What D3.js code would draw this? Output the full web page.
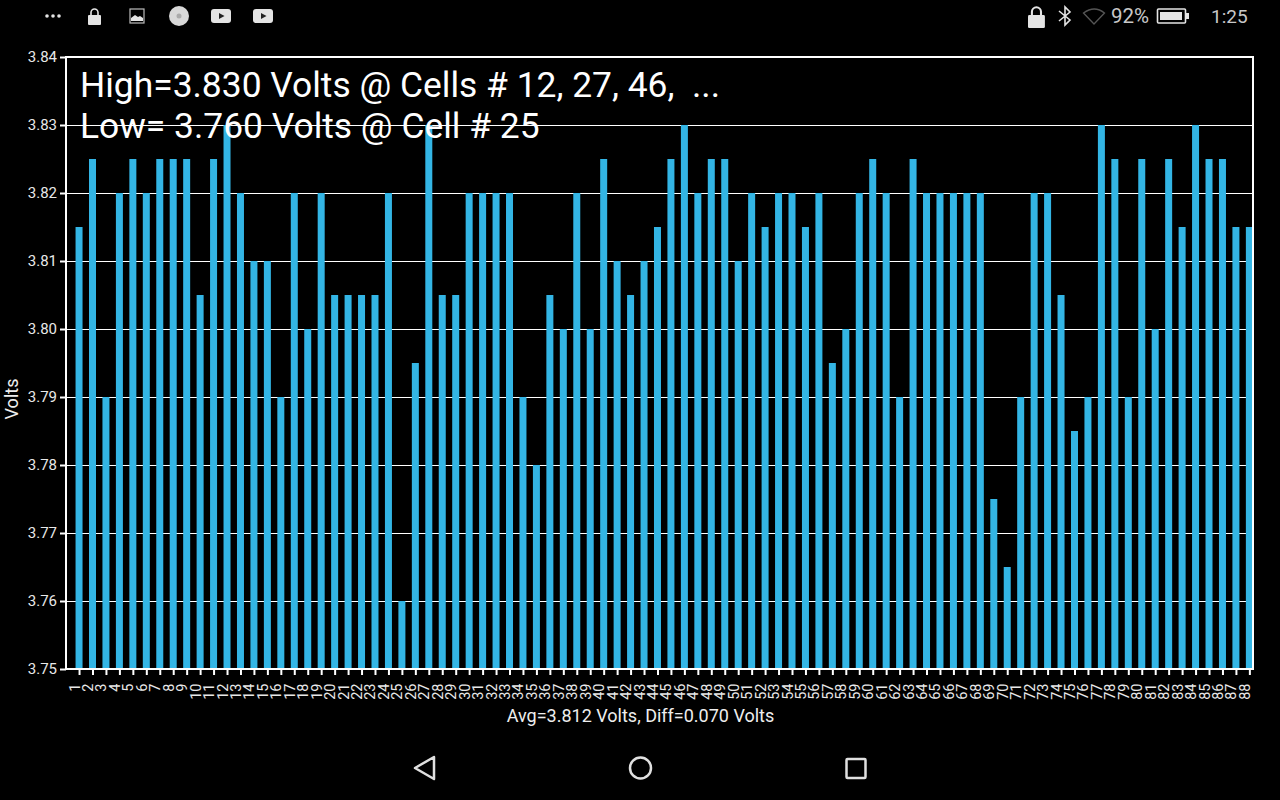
<!DOCTYPE html>
<html>
<head>
<meta charset="utf-8">
<script src="https://cdnjs.cloudflare.com/ajax/libs/d3/7.8.5/d3.min.js"></script>
<style>
html, body { margin: 0; padding: 0; background: #000; }
svg { display: block; font-family: Roboto, sans-serif; }
</style>
</head>
<body>
<script>
// cell voltages
var cells = d3.range(1, 89);
var volts = [
  3.815, 3.825, 3.79, 3.82, 3.825, 3.82, 3.825, 3.825, 3.825, 3.805,
  3.825, 3.83, 3.82, 3.81, 3.81, 3.79, 3.82, 3.80, 3.82, 3.805,
  3.805, 3.805, 3.805, 3.82, 3.76, 3.795, 3.83, 3.805, 3.805, 3.82,
  3.82, 3.82, 3.82, 3.79, 3.78, 3.805, 3.80, 3.82, 3.80, 3.825,
  3.81, 3.805, 3.81, 3.815, 3.825, 3.83, 3.82, 3.825, 3.825, 3.81,
  3.82, 3.815, 3.82, 3.82, 3.815, 3.82, 3.795, 3.80, 3.82, 3.825,
  3.82, 3.79, 3.825, 3.82, 3.82, 3.82, 3.82, 3.82, 3.775, 3.765,
  3.79, 3.82, 3.82, 3.805, 3.785, 3.79, 3.83, 3.825, 3.79, 3.825,
  3.80, 3.825, 3.815, 3.83, 3.825, 3.825, 3.815, 3.815
];
var yTicks = [3.75, 3.76, 3.77, 3.78, 3.79, 3.80, 3.81, 3.82, 3.83, 3.84];
var headerLines = ["High=3.830 Volts @ Cells # 12, 27, 46,  ...", "Low= 3.760 Volts @ Cell # 25"];
var xTitle = "Avg=3.812 Volts, Diff=0.070 Volts";
var yTitle = "Volts";

var svgWidth = 1280;
var svgHeight = 800;
var margin = { top: 57, right: 27, bottom: 131, left: 66 };
var width = svgWidth - margin.left - margin.right;
var height = svgHeight - margin.top - margin.bottom;
var barWidth = 7;

var svg = d3.select("body").append("svg")
  .attr("width", svgWidth)
  .attr("height", svgHeight);

// status bar and nav bar, drawn as plain icons
var statusBar = svg.append("g").attr("fill", "#e4e4e4");
[47, 53, 59].forEach(function (x) {
  statusBar.append("circle").attr("cx", x).attr("cy", 16).attr("r", 1.8);
});
function lock(x, y, k) {
  var g = statusBar.append("g").attr("transform", `translate(${x}, ${y}) scale(${k})`);
  g.append("rect").attr("x", 0).attr("y", 7).attr("width", 13).attr("height", 10).attr("rx", 1);
  g.append("path").attr("d", "M3 8 V4.5 a3.5 3.5 0 0 1 7 0 V8").attr("fill", "none").attr("stroke", "#e4e4e4").attr("stroke-width", 1.6);
}
lock(88, 8, 1);
statusBar.append("rect").attr("x", 130).attr("y", 9).attr("width", 14).attr("height", 14)
  .attr("fill", "none").attr("stroke", "#bbb").attr("stroke-width", 1.2);
statusBar.append("path").attr("d", "M131 21 v-3 l4 -3 l3 2 l2 -1 l3 2 v3 z");
statusBar.append("circle").attr("cx", 179).attr("cy", 16).attr("r", 10).attr("fill", "#d8d8d8");
statusBar.append("circle").attr("cx", 179).attr("cy", 16).attr("r", 2.5).attr("fill", "#aaa");
[211, 253].forEach(function (x) {
  statusBar.append("rect").attr("x", x).attr("y", 9).attr("width", 20).attr("height", 14).attr("rx", 3);
  statusBar.append("path").attr("d", `M${x + 8} 13 l5.5 3 l-5.5 3 z`).attr("fill", "#222");
});

lock(1028, 6, 1.3);
statusBar.append("path")
  .attr("d", "M1059 11 l11 9 l-5 5 v-18 l5 5 l-11 9")
  .attr("fill", "none").attr("stroke", "#e4e4e4").attr("stroke-width", 1.6);
statusBar.append("path")
  .attr("d", "M1083.5 13 q11 -8 21 0 l-10.5 11 z")
  .attr("fill", "none").attr("stroke", "#555").attr("stroke-width", 1.3);
statusBar.append("text").attr("x", 1111).attr("y", 22.5).attr("font-size", 20.5).attr("fill", "#c8c8c8").text("92%");
statusBar.append("rect").attr("x", 1157.5).attr("y", 9).attr("width", 28).attr("height", 14).attr("rx", 1)
  .attr("fill", "none").attr("stroke", "#e4e4e4").attr("stroke-width", 1.6);
statusBar.append("rect").attr("x", 1160).attr("y", 12).attr("width", 22).attr("height", 8);
statusBar.append("rect").attr("x", 1186).attr("y", 13).attr("width", 3).attr("height", 6);
statusBar.append("text").attr("x", 1211).attr("y", 22.5).attr("font-size", 19).attr("fill", "#c8c8c8").text("1:25");

var navBar = svg.append("g").attr("fill", "none").attr("stroke", "#e0e0e0").attr("stroke-width", 2.5);
navBar.append("path").attr("d", "M434 757 L415 768 L434 779 Z").attr("stroke-linejoin", "round");
navBar.append("circle").attr("cx", 640.5).attr("cy", 768).attr("r", 10.5);
navBar.append("rect").attr("x", 846.5).attr("y", 759).attr("width", 19).attr("height", 19).attr("rx", 1);

var chartGroup = svg.append("g")
  .attr("transform", `translate(${margin.left}, ${margin.top})`);

// axis starts one step before cell 1, bar 88 sits against the right edge
var xScale = d3.scaleLinear().domain([0.03, 88.27]).range([0, width]);
var yScale = d3.scaleLinear().domain([3.75, 3.84]).range([height, 0]);

// grid
chartGroup.selectAll(".grid")
  .data(yTicks)
  .enter()
  .append("line")
  .attr("class", "grid")
  .attr("x1", 0)
  .attr("x2", width)
  .attr("y1", d => Math.round(yScale(d)) + 0.5)
  .attr("y2", d => Math.round(yScale(d)) + 0.5)
  .attr("stroke", "#fff")
  .attr("stroke-width", 1);

// bars
chartGroup.selectAll(".bar")
  .data(volts)
  .enter()
  .append("rect")
  .attr("class", "bar")
  .attr("x", (d, i) => xScale(cells[i]) - barWidth / 2)
  .attr("y", d => yScale(d))
  .attr("width", barWidth)
  .attr("height", d => height - yScale(d))
  .attr("fill", "#33b5e5");

// axes
var leftAxis = d3.axisLeft(yScale)
  .tickValues(yTicks)
  .tickFormat(d3.format(".2f"))
  .tickSize(6)
  .tickPadding(3);
var yAxis = chartGroup.append("g").call(leftAxis);
yAxis.select(".domain").remove();
yAxis.selectAll("line").attr("stroke", "#fff").attr("stroke-width", 2);
yAxis.selectAll("text")
  .attr("fill", "#e8e8e8")
  .style("font-family", "Roboto, sans-serif")
  .style("font-size", "15px");

var bottomAxis = d3.axisBottom(xScale)
  .tickValues(cells)
  .tickFormat(d => d)
  .tickSize(6);
var xAxis = chartGroup.append("g")
  .attr("transform", `translate(0, ${height})`)
  .call(bottomAxis);
xAxis.select(".domain").remove();
xAxis.selectAll("line").attr("stroke", "#fff").attr("stroke-width", 2);
xAxis.selectAll("text")
  .attr("fill", "#e8e8e8")
  .attr("transform", "rotate(-90)")
  .attr("x", -14.5)
  .attr("y", 0)
  .attr("dy", 0)
  .style("text-anchor", "end")
  .style("font-family", "Roboto, sans-serif")
  .style("font-size", "14.5px");

// frame
chartGroup.append("path")
  .attr("d", `M0 ${height} V0 H${width} V${height} H0`)
  .attr("fill", "none")
  .attr("stroke", "#fff")
  .attr("stroke-width", 2);

// titles
svg.append("text")
  .attr("x", 640.5)
  .attr("y", 722)
  .attr("text-anchor", "middle")
  .attr("font-size", 18)
  .attr("fill", "#eee")
  .text(xTitle);

svg.append("text")
  .attr("transform", "translate(18, 399) rotate(-90)")
  .attr("text-anchor", "middle")
  .attr("font-size", 18)
  .attr("fill", "#eee")
  .text(yTitle);

// header text sits on top of the chart
svg.selectAll(".header")
  .data(headerLines)
  .enter()
  .append("text")
  .attr("class", "header")
  .attr("x", 80)
  .attr("y", (d, i) => 97 + i * 41)
  .attr("font-size", 35.4)
  .attr("fill", "#fff")
  .style("white-space", "pre")
  .text(d => d);
</script>
</body>
</html>
